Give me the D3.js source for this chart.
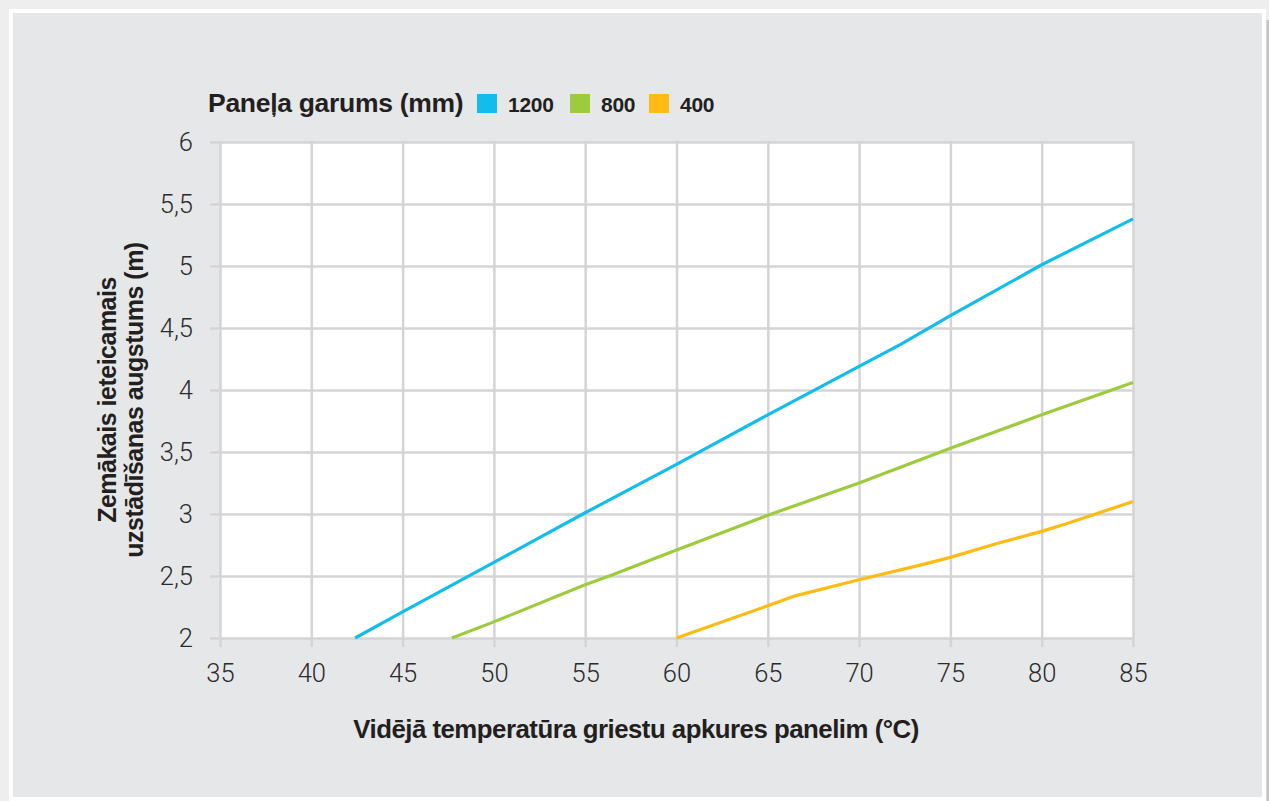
<!DOCTYPE html>
<html>
<head>
<meta charset="utf-8">
<script src="https://cdn.jsdelivr.net/npm/d3@7/dist/d3.min.js"></script>
<style>
  html, body { margin: 0; padding: 0; background: #eeeeee; }
  svg { display: block; }
</style>
</head>
<body>
<svg id="chart" width="1269" height="801"></svg>
<script>
// ---- data ----
const xTicks = [35, 40, 45, 50, 55, 60, 65, 70, 75, 80, 85];
const yTicks = [2, 2.5, 3, 3.5, 4, 4.5, 5, 5.5, 6];
const seriesNames = ["1200", "800", "400"];
const seriesColors = ["#12bdee", "#9dcb3b", "#fdbb13"];
const s1200x = [42.4, 45, 50, 55, 60, 65, 70, 72.3, 75, 80, 85];
const s1200y = [2.0, 2.21, 2.61, 3.01, 3.40, 3.80, 4.19, 4.37, 4.60, 5.01, 5.38];
const s800x = [47.7, 50, 55, 56.5, 60, 65, 70, 75, 80, 85];
const s800y = [2.0, 2.13, 2.43, 2.51, 2.71, 2.99, 3.25, 3.53, 3.80, 4.06];
const s400x = [60, 65, 66.5, 70, 73.4, 75, 77.5, 80, 81.3, 85];
const s400y = [2.0, 2.26, 2.34, 2.47, 2.59, 2.65, 2.76, 2.86, 2.92, 3.10];
const legendTitle = "Paneļa garums (mm)";
const xTitle = "Vidējā temperatūra griestu apkures panelim (°C)";
const yTitle1 = "Zemākais ieteicamais";
const yTitle2 = "uzstādīšanas augstums (m)";

const series = [
  { name: seriesNames[0], color: seriesColors[0], pts: s1200x.map((x, i) => [x, s1200y[i]]) },
  { name: seriesNames[1], color: seriesColors[1], pts: s800x.map((x, i) => [x, s800y[i]]) },
  { name: seriesNames[2], color: seriesColors[2], pts: s400x.map((x, i) => [x, s400y[i]]) }
];

const svg = d3.select("#chart");
const W = 1269, H = 801;

// frame
svg.append("rect").attr("x", 0).attr("y", 0).attr("width", W).attr("height", H).attr("fill", "#eeeeee");
svg.append("rect").attr("x", 9).attr("y", 9).attr("width", 1257).attr("height", 792).attr("fill", "#ffffff");
svg.append("rect").attr("x", 13).attr("y", 13).attr("width", 1249).attr("height", 784).attr("fill", "#e6e7e9");
svg.append("rect").attr("x", 1266.5).attr("y", 20).attr("width", 2.5).attr("height", H - 20).attr("fill", "#c2c2c6");

const m = { left: 220, top: 142, right: 1133, bottom: 638 };
const x = d3.scaleLinear().domain([35, 85]).range([m.left, m.right]);
const y = d3.scaleLinear().domain([2, 6]).range([m.bottom, m.top]);
const pw = m.right - m.left, ph = m.bottom - m.top;

const g = svg.append("g");
g.append("rect").attr("x", m.left).attr("y", m.top).attr("width", pw).attr("height", ph).attr("fill", "#ffffff");

const gridColor = "#d4d4d6";
const tickFont = "Roboto, 'Liberation Sans', Arial, sans-serif";

// y grid + ticks + labels
const yAxis = g.append("g").attr("transform", `translate(${m.left},0)`)
  .call(d3.axisLeft(y).tickValues(yTicks).tickSize(10).tickPadding(17)
    .tickFormat(d => String(d).replace(".", ",")));
yAxis.select(".domain").remove();
yAxis.selectAll(".tick line").attr("stroke", gridColor).attr("stroke-width", 2.5).attr("x2", -10).attr("x1", pw);
yAxis.selectAll(".tick text").attr("font-family", tickFont).attr("font-weight", 300)
  .attr("font-size", 25.5).attr("fill", "#2b2b2b");

// x grid + ticks + labels
const xAxis = g.append("g").attr("transform", `translate(0,${m.bottom})`)
  .call(d3.axisBottom(x).tickValues(xTicks).tickSize(10).tickPadding(16).tickFormat(d => String(d)));
xAxis.select(".domain").remove();
xAxis.selectAll(".tick line").attr("stroke", gridColor).attr("stroke-width", 2.5).attr("y1", -ph - 1).attr("y2", 9);
xAxis.selectAll(".tick text").attr("font-family", tickFont).attr("font-weight", 300)
  .attr("font-size", 25.5).attr("fill", "#2b2b2b");

// lines
const line = d3.line().x(d => x(d[0])).y(d => y(d[1]));
g.selectAll(".series").data(series).enter().append("path")
  .attr("class", "series")
  .attr("d", d => line(d.pts))
  .attr("fill", "none")
  .attr("stroke", d => d.color)
  .attr("stroke-width", 3.2)
  .attr("stroke-linejoin", "round");

// titles
const titleFont = "'Liberation Sans', Arial, sans-serif";
svg.append("text").attr("x", 636).attr("y", 738).attr("text-anchor", "middle")
  .attr("font-family", titleFont).attr("font-weight", "bold").attr("font-size", 25.8)
  .attr("letter-spacing", -0.5).attr("fill", "#231f20").text(xTitle);

const yt = svg.append("g").attr("transform", "translate(0,400) rotate(-90)");
yt.append("text").attr("x", 0).attr("y", 116).attr("text-anchor", "middle")
  .attr("font-family", titleFont).attr("font-weight", "bold").attr("font-size", 25)
  .attr("letter-spacing", -0.5).attr("fill", "#231f20").text(yTitle1);
yt.append("text").attr("x", 0).attr("y", 143).attr("text-anchor", "middle")
  .attr("font-family", titleFont).attr("font-weight", "bold").attr("font-size", 25)
  .attr("letter-spacing", -0.5).attr("fill", "#231f20").text(yTitle2);

// legend
const lg = svg.append("g");
lg.append("text").attr("x", 208).attr("y", 112).attr("font-family", titleFont).attr("font-weight", "bold")
  .attr("font-size", 26.5).attr("letter-spacing", -0.3).attr("fill", "#231f20").text(legendTitle);
const legX = [477, 570, 649];
series.forEach((s, i) => {
  lg.append("rect").attr("x", legX[i]).attr("y", 94).attr("width", 20).attr("height", 19).attr("fill", s.color);
  lg.append("text").attr("x", legX[i] + 31).attr("y", 112).attr("font-family", titleFont).attr("font-weight", "bold")
    .attr("font-size", 21).attr("letter-spacing", -0.3).attr("fill", "#231f20").text(s.name);
});
</script>
</body>
</html>
